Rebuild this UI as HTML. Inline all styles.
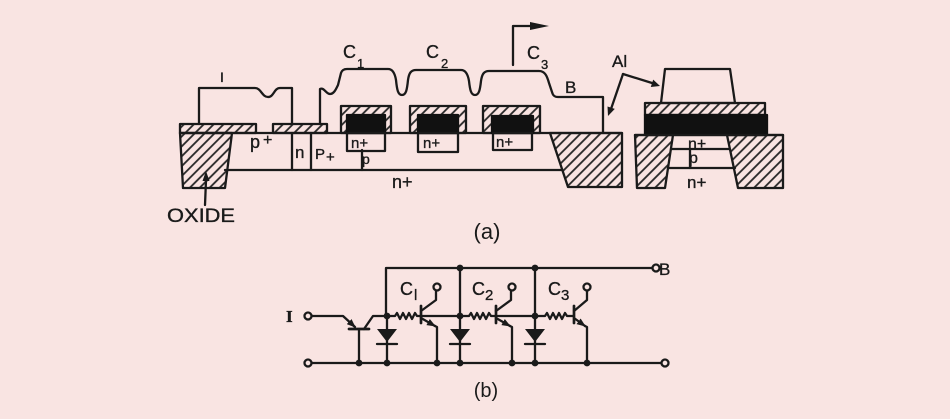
<!DOCTYPE html>
<html><head><meta charset="utf-8"><style>
html,body{margin:0;padding:0;background:#f9e4e2;}
svg{display:block}
text{font-family:"Liberation Sans",sans-serif;fill:#1a1a1a;stroke:#1a1a1a;stroke-width:0.35}
</style></head><body>
<svg width="950" height="419" viewBox="0 0 950 419" xmlns="http://www.w3.org/2000/svg">
<defs>
<pattern id="h" width="7" height="7" patternUnits="userSpaceOnUse" patternTransform="rotate(45)">
<line x1="1" y1="0" x2="1" y2="7" stroke="#262626" stroke-width="1.8"/>
</pattern>
<marker id="a" viewBox="0 0 9 7" refX="8" refY="3.5" markerWidth="9" markerHeight="7" markerUnits="userSpaceOnUse" orient="auto">
<path d="M0,0 L9,3.5 L0,7 z" fill="#1a1a1a"/>
</marker>
</defs>
<rect width="950" height="419" fill="#f9e4e2"/>

<!-- ===== (a) cross-section ===== -->
<g stroke="#1a1a1a" stroke-width="2.3" fill="none" stroke-linejoin="round" stroke-linecap="round">
  <polygon points="180,133 232,133 225,188 183,188" fill="url(#h)"/>
  <rect x="180" y="124" width="76" height="9" fill="url(#h)"/>
  <rect x="273" y="124" width="54" height="9" fill="url(#h)"/>
  <line x1="180" y1="133" x2="622" y2="133"/>
  <line x1="225" y1="170" x2="562" y2="170"/>
  <line x1="292" y1="133" x2="292" y2="170"/>
  <line x1="311" y1="133" x2="311" y2="170"/>
  <line x1="362" y1="150" x2="362" y2="170"/>
  <path d="M199,124 V88 H255 C261,88 262,97 268,97 C274,97 274,88 280,88 H292 V124"/>
  <path d="M320,124 V89 C324,87 326,94 330,94 C334,94 336,89 338,85 L341,73 C342,70 344,69 347,69 H388 C393,69 395,74 396,80 C397,90 398,95 402,95 C406,95 407,90 408,80 C409,73 411,70 416,70 H461 C466,70 468,75 469,81 C470,90 471,95 475,95 C479,95 480,90 481,81 C482,74 484,71 489,71 H539 C545,71 547,76 549,83 L552,92 C553,96 555,97 558,97 H603 V133"/>
  <polyline points="513,65 513,26 532,26"/>
  <rect x="341" y="106" width="50" height="27" fill="url(#h)"/>
  <rect x="347" y="115" width="38" height="18" fill="#111" stroke="#111"/>
  <rect x="410" y="106" width="56" height="27" fill="url(#h)"/>
  <rect x="418" y="115" width="40" height="18" fill="#111" stroke="#111"/>
  <rect x="483" y="106" width="57" height="27" fill="url(#h)"/>
  <rect x="492" y="116" width="41" height="17" fill="#111" stroke="#111"/>
  <rect x="347" y="133" width="38" height="18"/>
  <rect x="418" y="133" width="40" height="19"/>
  <rect x="493" y="133" width="39" height="17"/>
  <polygon points="550,133 622,133 622,187 568,187" fill="url(#h)"/>
  <line x1="205" y1="205" x2="206" y2="180"/>
  <line x1="623" y1="74" x2="611" y2="109"/>
  <line x1="623" y1="74" x2="652" y2="83"/>

  <polygon points="661,103 665,69 730,69 735,103"/>
  <rect x="645" y="103" width="120" height="12" fill="url(#h)"/>
  <rect x="645" y="115" width="122" height="20" fill="#111" stroke="#111"/>
  <line x1="635" y1="135" x2="783" y2="135"/>
  <polygon points="635,135 673,135 665,188 637,188" fill="url(#h)"/>
  <polygon points="727,135 783,135 783,188 738,188" fill="url(#h)"/>
  <line x1="671" y1="149" x2="729" y2="149"/>
  <line x1="668" y1="168" x2="735" y2="168"/>
  <line x1="690" y1="149" x2="690" y2="168"/>
</g>
<polygon points="530,22 549,26 530,30" fill="#1a1a1a"/>
<polygon points="206,171 202.5,181 209.5,181" fill="#1a1a1a"/>
<polygon points="608,116 607.5,106.5 614.8,108.9" fill="#1a1a1a"/>
<polygon points="660,86 650.8,87 653.2,79.6" fill="#1a1a1a"/>

<text x="220" y="82" font-size="14">I</text>
<text x="343" y="58" font-size="18">C</text><text x="357" y="68" font-size="13">1</text>
<text x="426" y="58" font-size="18">C</text><text x="441" y="68" font-size="13">2</text>
<text x="527" y="59" font-size="18">C</text><text x="541" y="69" font-size="13">3</text>
<text x="565" y="93" font-size="17">B</text>
<text x="612" y="67" font-size="17">Al</text>
<text x="250" y="148" font-size="18">p</text><text x="263" y="145" font-size="16">+</text>
<text x="295" y="158" font-size="17">n</text>
<text x="315" y="159" font-size="15">P</text><text x="326" y="162" font-size="15">+</text>
<text x="362" y="164" font-size="14">p</text>
<text x="392" y="188" font-size="18">n+</text>
<text x="351" y="148" font-size="15">n+</text>
<text x="423" y="148" font-size="15">n+</text>
<text x="496" y="147" font-size="15">n+</text>
<text x="688" y="149" font-size="16">n+</text>
<text x="689" y="163" font-size="16">p</text>
<text x="687" y="188" font-size="17">n+</text>
<text x="167" y="222" font-size="19" textLength="68" lengthAdjust="spacingAndGlyphs">OXIDE</text>
<text x="487" y="239" font-size="22" text-anchor="middle" style="stroke-width:0">(a)</text>

<!-- ===== (b) circuit ===== -->
<g stroke="#1a1a1a" stroke-width="2.3" fill="none" stroke-linejoin="round" stroke-linecap="round">
  <polyline points="386,316 386,268 652,268"/>
  <circle cx="656" cy="268" r="3.5"/>
  <line x1="460" y1="268" x2="460" y2="363"/>
  <line x1="535" y1="268" x2="535" y2="363"/>
  <line x1="387" y1="316" x2="387" y2="363"/>
  <circle cx="308" cy="363" r="3.5"/>
  <line x1="312" y1="363" x2="661" y2="363"/>
  <circle cx="665" cy="363" r="3.5"/>
  <circle cx="308" cy="316" r="3.5"/>
  <polyline points="312,316 343,316 355,327" marker-end="url(#a)"/>
  <line x1="349" y1="329" x2="369" y2="329" stroke-width="2.7"/>
  <polyline points="364,329 373,316 387,316"/>
  <line x1="359" y1="329" x2="359" y2="363"/>
  <polyline points="387,316 395,316 397,313 400,319 403,313 406,319 409,313 412,319 415,313 417,316 460,316"/>
  <polyline points="460,316 469,316 471,313 474,319 477,313 480,319 483,313 486,319 489,313 491,316 535,316"/>
  <polyline points="535,316 545,316 547,313 550,319 553,313 556,319 559,313 562,319 565,313 567,316 574,316"/>
  <line x1="421" y1="306" x2="421" y2="323" stroke-width="2.7"/>
  <polyline points="421,311 436,300 436,291"/>
  <circle cx="437" cy="287" r="3.5"/>
  <line x1="421" y1="318" x2="435" y2="326" marker-end="url(#a)"/>
  <polyline points="435,326 437,327 437,363"/>
  <line x1="496" y1="306" x2="496" y2="323" stroke-width="2.7"/>
  <polyline points="496,311 511,300 511,291"/>
  <circle cx="512" cy="287" r="3.5"/>
  <line x1="496" y1="318" x2="510" y2="326" marker-end="url(#a)"/>
  <polyline points="510,326 512,327 512,363"/>
  <line x1="574" y1="306" x2="574" y2="323" stroke-width="2.7"/>
  <polyline points="574,311 587,300 587,291"/>
  <circle cx="587" cy="287" r="3.5"/>
  <line x1="574" y1="318" x2="585" y2="326" marker-end="url(#a)"/>
  <polyline points="585,326 587,327 587,363"/>
  <line x1="377" y1="344" x2="397" y2="344"/>
  <line x1="450" y1="344" x2="470" y2="344"/>
  <line x1="525" y1="344" x2="545" y2="344"/>
</g>
<g fill="#1a1a1a">
  <polygon points="377,329 397,329 387,342"/>
  <polygon points="450,329 470,329 460,342"/>
  <polygon points="525,329 545,329 535,342"/>
  <circle cx="460" cy="268" r="3.4"/>
  <circle cx="535" cy="268" r="3.4"/>
  <circle cx="387" cy="316" r="3.4"/>
  <circle cx="460" cy="316" r="3.4"/>
  <circle cx="535" cy="316" r="3.4"/>
  <circle cx="359" cy="363" r="3.4"/>
  <circle cx="387" cy="363" r="3.4"/>
  <circle cx="437" cy="363" r="3.4"/>
  <circle cx="460" cy="363" r="3.4"/>
  <circle cx="512" cy="363" r="3.4"/>
  <circle cx="535" cy="363" r="3.4"/>
  <circle cx="587" cy="363" r="3.4"/>
</g>
<text x="286" y="322" font-size="17" style="font-family:'Liberation Serif',serif" font-weight="bold">I</text>
<text x="400" y="295" font-size="18">C</text><text x="414" y="300" font-size="15">l</text>
<text x="472" y="295" font-size="18">C</text><text x="485" y="300" font-size="15">2</text>
<text x="548" y="295" font-size="18">C</text><text x="561" y="300" font-size="15">3</text>
<text x="659" y="275" font-size="17">B</text>
<text x="486" y="397" font-size="20" text-anchor="middle" style="stroke-width:0">(b)</text>
</svg>
</body></html>
